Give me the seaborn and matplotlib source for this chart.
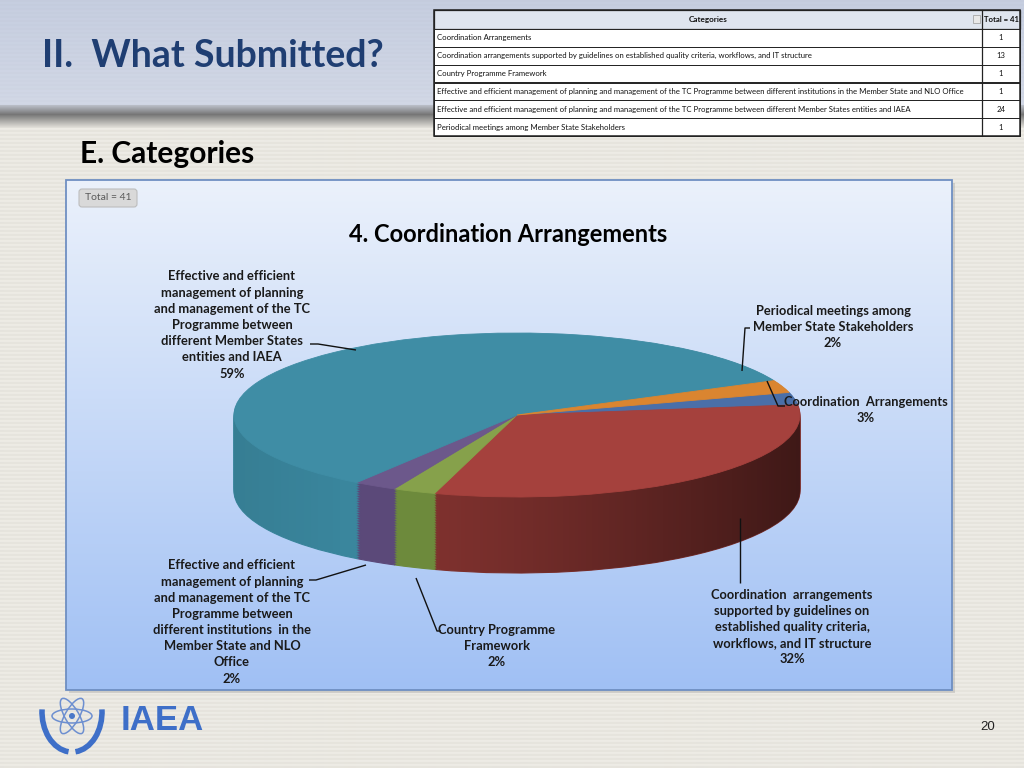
"""Slide 20: 4. Coordination Arrangements (3D-look pie with summary table)."""

import numpy as np
import matplotlib

matplotlib.use("Agg")
import matplotlib.pyplot as plt
from matplotlib.patches import Rectangle, FancyBboxPatch, Ellipse, Arc, PathPatch
from matplotlib.path import Path
import seaborn as sns

# ---- data -------------------------------------------------------------
categories = [
    "Coordination Arrangements",
    "Coordination arrangements supported by guidelines on established quality criteria, workflows, and IT structure",
    "Country Programme Framework",
    "Effective and efficient management of planning and management of the TC Programme between different institutions in the Member State and NLO Office",
    "Effective and efficient management of planning and management of the TC Programme between different Member States entities and IAEA",
    "Periodical meetings among Member State Stakeholders",
]
counts = [1, 13, 1, 1, 24, 1]
total = sum(counts)

pie_labels = [
    "Coordination  Arrangements",
    "Coordination  arrangements\nsupported by guidelines on\nestablished quality criteria,\nworkflows, and IT structure",
    "Country Programme\nFramework",
    "Effective and efficient\nmanagement of planning\nand management of the TC\nProgramme between\ndifferent institutions  in the\nMember State and NLO\nOffice",
    "Effective and efficient\nmanagement of planning\nand management of the TC\nProgramme between\ndifferent Member States\nentities and IAEA",
    "Periodical meetings among\nMember State Stakeholders",
]
pct_labels = ["3%", "32%", "2%", "2%", "59%", "2%"]

# ---- styles -----------------------------------------------------------
TOP_COLORS = ["#4a6fa8", "#a5413d", "#86a14b", "#6c588b", "#3f8da5", "#da8530"]
SIDE_COLORS = ["#3c5b8e", "#7e312e", "#6d8a3c", "#5b4979", "#3a869d", "#b56c27"]
NAVY = "#1f3e72"
LOGO_BLUE = "#3e6fc8"
START_ANGLE = 16

# label block centres and leader polylines, in slide pixels
LABEL_LAYOUT = [
    dict(xy=(866, 410), lead=[(785, 406), (778, 406), (767, 381)]),
    dict(xy=(792, 627), lead=[(740, 518), (740, 583)]),
    dict(xy=(497, 646), lead=[(441, 631), (437, 631), (416, 578)]),
    dict(xy=(232, 622), lead=[(309, 580), (316, 580), (366, 565)]),
    dict(xy=(232, 325), lead=[(310, 344), (318, 344), (356, 350)]),
    dict(xy=(833, 327), lead=[(750, 328), (745, 328), (742, 371)]),
]

sns.set_theme(style="white")
plt.rcParams["font.family"] = ["Lato", "DejaVu Sans"]

W, H = 1024, 768
fig = plt.figure(figsize=(W / 100, H / 100), dpi=100)


def hex_rgb(h):
    h = h.lstrip("#")
    return np.array([int(h[i:i + 2], 16) for i in (0, 2, 4)]) / 255.0


def lerp(c1, c2, t):
    return hex_rgb(c1) * (1 - t) + hex_rgb(c2) * t


# ---- slide background -------------------------------------------------
ax_bg = fig.add_axes([0, 0, 1, 1], zorder=0)
ax_bg.axis("off")

rows = []
for y in range(H):
    if y < 105:
        c = lerp("#c6cee0", "#d2d8e6", y / 105)
        if y % 4 < 2:
            c = c * 0.99
    elif y < 114:
        c = lerp("#b9bdc6", "#767676", (y - 105) / 9)
    elif y < 128:
        c = lerp("#767676", "#e9e7e0", (y - 114) / 14)
    else:
        c = hex_rgb("#edebe5") if y % 4 < 2 else hex_rgb("#e6e4dd")
    rows.append(c)
bg = np.array(rows)[:, None, :]
ax_bg.imshow(bg, extent=(0, W, H, 0), aspect="auto", interpolation="bilinear")

# chart area with drop shadow and vertical gradient
ax_bg.add_patch(Rectangle((69, 183), 886, 510, fc="#9a9a9a", ec="none", alpha=0.35, zorder=2))
grad = np.array([lerp("#ebf1fb", "#a0c0f4", t) for t in np.linspace(0, 1, 200)])[:, None, :]
ax_bg.imshow(grad, extent=(66, 952, 690, 180), aspect="auto", zorder=3)
ax_bg.add_patch(Rectangle((66, 180), 886, 510, fc="none", ec="#6f8fc2", lw=1.3, zorder=4))
ax_bg.set_xlim(0, W)
ax_bg.set_ylim(H, 0)

# ---- pie (tilted, with depth) -----------------------------------------
ax_pie = fig.add_axes([0, 0, 1, 1], zorder=1)
ax_pie.patch.set_alpha(0)
cx, cy, rx, ry = 517, 415, 283, 82
depth = 76 / ry
n_layers = 45

for k in range(n_layers, 0, -1):
    wedges, _ = ax_pie.pie(
        counts,
        colors=SIDE_COLORS,
        startangle=START_ANGLE,
        counterclock=False,
        center=(0, -depth * k / n_layers),
        radius=1,
        wedgeprops=dict(zorder=10 + n_layers - k),
    )
    for w in wedges:
        w.set_edgecolor(w.get_facecolor())
        w.set_linewidth(0.8)

# darkening towards the right on the side wall
t = np.linspace(0, np.pi, 120)
t2 = np.linspace(np.pi, 2 * np.pi, 120)
hull = np.vstack([
    np.column_stack([np.cos(t), np.sin(t)]),
    np.column_stack([np.cos(t2), -depth + np.sin(t2)]),
])
shade = np.zeros((2, 300, 4))
xs = np.linspace(-1, 1, 300)
shade[:, :, 3] = np.clip((xs + 0.3) / 1.3, 0, 1) ** 1.2 * 0.5 + np.clip(-xs - 0.6, 0, 1) * 0.15
im = ax_pie.imshow(shade, extent=(-1, 1, -depth - 1, 1), aspect="auto", zorder=10 + n_layers + 1)
im.set_clip_path(PathPatch(Path(hull), transform=ax_pie.transData))

wedges, _ = ax_pie.pie(
    counts,
    colors=TOP_COLORS,
    startangle=START_ANGLE,
    counterclock=False,
    center=(0, 0),
    radius=1,
    wedgeprops=dict(zorder=200),
)
for w in wedges:
    w.set_edgecolor(w.get_facecolor())
    w.set_linewidth(0.6)

ax_pie.set_aspect("auto")
ax_pie.set_xlim((0 - cx) / rx, (W - cx) / rx)
ax_pie.set_ylim((cy - H) / ry, (cy - 0) / ry)
ax_pie.axis("off")

# ---- overlay: text, leaders, table, logo ------------------------------
ax = fig.add_axes([0, 0, 1, 1], zorder=2)
ax.patch.set_alpha(0)
ax.set_xlim(0, W)
ax.set_ylim(H, 0)
ax.axis("off")

ax.text(42, 56, "II.  What Submitted?", fontsize=27, fontweight="bold", color=NAVY,
        ha="left", va="center")
ax.text(80, 154, "E. Categories", fontsize=21.5, fontweight="bold", color="black",
        ha="left", va="center")

ax.add_patch(FancyBboxPatch((79, 189), 58, 18, boxstyle="round,pad=0,rounding_size=3",
                            fc="#d9d9d9", ec="#bdbdbd", lw=0.8))
ax.text(108, 198, f"Total = {total}", fontsize=7.5, color="#5a5a5a", ha="center", va="center")

ax.text(508, 234, "4. Coordination Arrangements", fontsize=17, fontweight="bold",
        color="black", ha="center", va="center")

for label, pct, lay in zip(pie_labels, pct_labels, LABEL_LAYOUT):
    x, y = lay["xy"]
    ax.text(x, y, f"{label}\n{pct}", fontsize=9.3, fontweight="bold", color="#1a1a1a",
            ha="center", va="center", multialignment="center", linespacing=1.42)
    lx, ly = zip(*lay["lead"])
    ax.plot(lx, ly, color="#111111", lw=1.0, solid_capstyle="butt")

# table
tx0, tx1, tsplit = 434, 1020, 982
header_top, header_bot = 10, 29
row_h = (136 - header_bot) / len(categories)
ax.add_patch(Rectangle((tx0, header_top), tx1 - tx0, header_bot - header_top,
                       fc="#dfe5ef", ec="#222222", lw=0.9))
ax.text((tx0 + tsplit) / 2, (header_top + header_bot) / 2, "Categories", fontsize=5.9,
        fontweight="bold", color="#111111", ha="center", va="center")
ax.text((tsplit + tx1) / 2, (header_top + header_bot) / 2, f"Total = {total}", fontsize=5.6,
        fontweight="bold", color="#111111", ha="center", va="center")
ax.add_patch(Rectangle((tsplit - 9, 15), 7, 8, fc="#e8e8e8", ec="#9a9a9a", lw=0.5))
for i, (cat, n) in enumerate(zip(categories, counts)):
    top = header_bot + i * row_h
    ax.add_patch(Rectangle((tx0, top), tx1 - tx0, row_h, fc="white", ec="#222222", lw=0.7))
    ax.text(tx0 + 3, top + row_h / 2, cat, fontsize=5.6, color="#111111", ha="left", va="center")
    ax.text((tsplit + tx1) / 2, top + row_h / 2, str(n), fontsize=5.6, color="#111111",
            ha="center", va="center")
ax.plot([tsplit, tsplit], [header_top, 136], color="#222222", lw=0.9)
ax.add_patch(Rectangle((tx0, header_top), tx1 - tx0, 136 - header_top, fc="none",
                       ec="#222222", lw=1.1))

# IAEA logo (simplified emblem) and page number
logo_c = (72, 716)
for ang in (0, 60, 120):
    ax.add_patch(Ellipse(logo_c, 40, 14, angle=ang, fc="none", ec="#6d8fd0", lw=1.1))
ax.add_patch(Ellipse(logo_c, 6, 6, fc="#4a78c8", ec="none"))
# y axis is inverted here, so angles run clockwise on screen
ax.add_patch(Arc((72, 712), 60, 80, theta1=95, theta2=185, color=LOGO_BLUE, lw=4))
ax.add_patch(Arc((72, 712), 60, 80, theta1=-5, theta2=85, color=LOGO_BLUE, lw=4))
ax.text(121, 721, "IAEA", fontsize=25, fontweight="bold", color=LOGO_BLUE,
        family=["Liberation Sans", "DejaVu Sans"], ha="left", va="center")
ax.text(988, 727, "20", fontsize=9.5, color="#222222", family=["Liberation Sans", "DejaVu Sans"],
        ha="center", va="center")

fig.savefig("out.png", dpi=100)
